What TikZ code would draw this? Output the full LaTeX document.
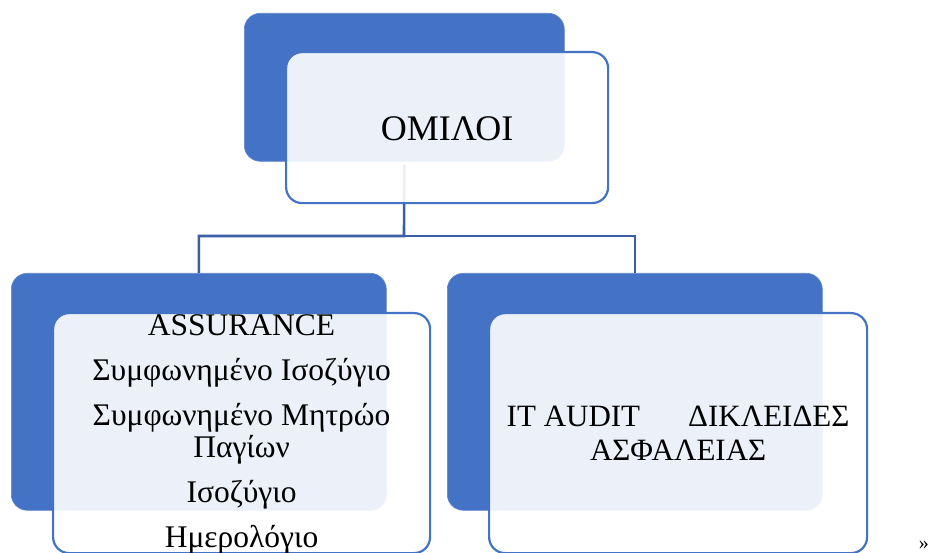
\documentclass[tikz,border=0pt]{standalone}
\usepackage{fontspec}
\setmainfont{Liberation Serif}
\definecolor{blueC}{HTML}{4472C4}
\definecolor{connC}{HTML}{3A5FA6}
\begin{document}
\begin{tikzpicture}[x=1bp,y=-1bp,
  bluebox/.style={rectangle,rounded corners=16bp,fill=blueC,draw=blueC!85!white,line width=0.6bp,inner sep=0pt,anchor=north west},
  lightbox/.style={rectangle,rounded corners=16bp,draw=blueC,line width=2.2bp,fill=white,fill opacity=0.9,inner sep=0pt,anchor=north west},
  conn/.style={draw=connC,line width=2.6bp},
  txt/.style={align=center,inner sep=0pt,text=black}]
\useasboundingbox (0,0) rectangle (930,553);
% blue back boxes
\node[bluebox,minimum width=320bp,minimum height=148bp] (topblue) at (244,13) {};
\node[bluebox,minimum width=375bp,minimum height=237bp] (leftblue) at (11,273) {};
\node[bluebox,minimum width=375bp,minimum height=237bp] (rightblue) at (447,273) {};
% connectors
\coordinate (hub) at (404,236);
\draw[conn] ([yshift=-3bp]topblue.south) -- (hub) -| (leftblue.north);
\draw[conn] (hub) -| (rightblue.north);
% light front boxes
\node[lightbox,minimum width=322bp,minimum height=151bp] (toplight) at (285,51) {};
\node[lightbox,minimum width=377bp,minimum height=240bp] (leftlight) at (52,312) {};
\node[lightbox,minimum width=378bp,minimum height=240bp] (rightlight) at (488,312) {};
% texts
\node[txt,font=\fontsize{36bp}{40bp}\selectfont] (toptext) at ([yshift=-1bp]toplight.center) {ΟΜΙΛΟΙ};
\node[txt,font=\fontsize{31.5bp}{32bp}\selectfont] (lefttext) at ([yshift=-1bp]leftlight.center)
  {ASSURANCE\\[13bp]Συμφωνημένο Ισοζύγιο\\[13bp]Συμφωνημένο Μητρώο\\Παγίων\\[13bp]Ισοζύγιο\\[13bp]Ημερολόγιο};
\node[txt,font=\fontsize{31bp}{34bp}\selectfont] (righttext) at (rightlight.center)
  {IT AUDIT\hspace*{48bp}ΔΙΚΛΕΙΔΕΣ\\ΑΣΦΑΛΕΙΑΣ};
\node[txt,font=\fontsize{20bp}{22bp}\selectfont,anchor=east] (mark) at (929,545) {»};
\end{tikzpicture}
\end{document}
